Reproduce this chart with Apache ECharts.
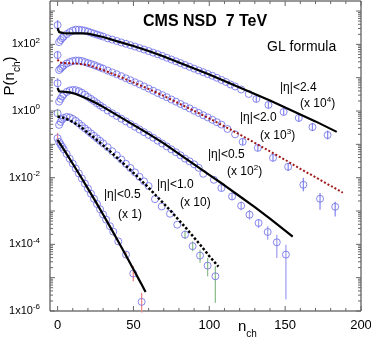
<!DOCTYPE html>
<html>
<head>
<meta charset="utf-8">
<script src="https://cdn.jsdelivr.net/npm/echarts@6/dist/echarts.min.js"></script>
<style>
  html, body { margin: 0; padding: 0; background: #fff; }
  #chart { width: 371px; height: 340px; }
</style>
</head>
<body>
<div id="chart"></div>
<script>
// |eta|<2.4 (x 10^4)
const n1 = [0,1,2,3,4,6,8,10,12,14,16,18,20,22,24,26,28,30,33,36,39,42,45,48,51,54,57,60,63,66,69,72,75,78,81,84,87,90,93,96,99,102,105,108,111,114,117,121,126,131,139,149,159,168,178];
const p1 = [378,117,135,154,171,203,233,259,277,277,268,259,242,225,210,196,183,171,152,139,126,114,104,94.6,85.9,77.5,69.9,63.0,56.4,50.5,45.0,39.7,35.1,31.0,27.4,24.0,21.2,18.7,16.5,14.6,12.9,11.4,9.93,8.59,7.43,6.25,5.45,4.43,3.25,2.30,1.52,0.94,0.62,0.33,0.19];
const fitN1 = [0,1,4,10,16,20,30,40,50,60,70,80,90,100,110,120,130,140,150,160,170,184];
const fit1 = [308,233,218,215,213,210,166,121,89,63,43,28.5,18.8,12.5,7.96,5.09,3.25,2.07,1.28,0.79,0.489,0.237];
const err1 = [[0,250,535],[131,1.85,2.85],[139,1.2,1.9],[149,0.74,1.2],[159,0.48,0.8],[168,0.25,0.44],[178,0.14,0.26]];

// |eta|<2.0 (x 10^3)
const n2 = [0,1,2,3,4,6,8,10,12,14,16,18,20,22,24,26,28,30,33,36,39,42,45,48,51,54,57,60,63,66,69,72,75,78,81,84,87,90,93,96,99,102,105,108,112,117,122,132,142,152,162,173,183];
const p2 = [47.9,17.0,18.9,20.9,23.2,26.6,29.5,31.6,32.7,32.7,31.6,29.5,27.5,25.7,24.0,22.1,20.3,18.7,16.3,14.4,12.7,11.1,9.6,8.36,7.28,6.34,5.49,4.72,4.06,3.48,3.01,2.59,2.22,1.91,1.63,1.39,1.20,1.02,0.877,0.748,0.643,0.546,0.462,0.392,0.29,0.2,0.119,0.0785,0.0394,0.0212,0.00612,0.00233,0.00134];
const fitN2 = [0,1,3,8,14,20,30,40,50,60,70,80,90,100,110,120,130,140,150,160,170,180,188];
const fit2 = [35.1,29.5,27.5,27.0,26.2,24.0,17.0,11.2,7.18,4.59,2.83,1.69,1.01,0.600,0.346,0.199,0.111,0.0617,0.0343,0.0185,0.0103,0.00571,0.00353];
const err2 = [[0,36,64],[122,0.095,0.15],[132,0.062,0.1],[142,0.031,0.05],[152,0.016,0.028],[162,0.0039,0.0099],[173,0.0011,0.0035],[183,0.00069,0.0019]];

// |eta|<0.5 (x 10^2)
const n3 = [0,1,2,3,4,6,8,10,12,14,16,18,20,22,24,26,28,30,33,36,39,42,45,48,51,54,57,60,63,66,69,72,75,78,81,84,87,90,93,96,103,108,115,121,126.5,132.5,138.5,144.5,150.5];
const p3 = [6.79,1.91,2.30,2.74,3.14,3.73,4.14,4.29,4.23,3.94,3.53,3.08,2.64,2.30,2.00,1.71,1.47,1.28,1.04,0.859,0.713,0.588,0.489,0.405,0.337,0.279,0.232,0.192,0.158,0.129,0.106,0.0865,0.0708,0.0579,0.0469,0.0373,0.031,0.0252,0.0198,0.0131,0.00865,0.00489,0.00274,0.00144,7.75e-4,4.37e-4,2.35e-4,1.15e-4,4.92e-5];
const fitN3 = [0,1,4,8,12,16,20,25,30,35,40,50,60,70,80,90,100,110,120,130,140,150,155];
const fit3 = [4.92,3.86,3.78,3.61,3.25,2.74,2.30,1.77,1.33,0.973,0.713,0.384,0.206,0.107,0.0520,0.0252,0.0122,0.00592,0.00277,0.00130,5.88e-4,2.57e-4,1.70e-4];
const err3 = [[0,4.6,9.8],[108,0.0039,0.0061],[115,0.0021,0.0035],[121,0.00105,0.0019],[126.5,5.5e-4,0.00109],[132.5,3.1e-4,5.75e-4],[138.5,1.38e-4,3.46e-4],[144.5,3.92e-5,1.95e-4],[150.5,2.2e-6,9.8e-5]];

// |eta|<1.0 (x 10)
const n4 = [0,1,2,3,4,6,8,10,12,14,16,18,20,22,24,26,28,30,33,36,39,42,45,48,51,54,57,60,64.2,68.6,74.1,78.9,84,89,93.9,98.9,104];
const p4 = [0.859,0.384,0.472,0.561,0.621,0.665,0.643,0.579,0.506,0.426,0.358,0.301,0.254,0.213,0.180,0.151,0.127,0.107,0.0818,0.0621,0.0469,0.0351,0.0262,0.0195,0.0144,0.0106,0.00775,0.00561,0.00227,0.00137,8.30e-4,3.89e-4,1.95e-4,8.83e-5,4.59e-5,2.30e-5,1.10e-5];
const fitN4 = [0,3,6,10,15,20,25,30,35,40,45,50,55,60,65,70,75,80,85,90,95,100,106];
const fit4 = [0.689,0.643,0.579,0.472,0.346,0.221,0.146,0.0933,0.0596,0.0368,0.0227,0.0140,0.00836,0.00499,0.00287,0.00166,9.53e-4,5.31e-4,2.95e-4,1.59e-4,8.54e-5,4.43e-5,2.15e-5];
const err4 = [[0,0.62,1.16],[84,1.45e-4,2.6e-4],[89,6.2e-5,1.23e-4],[93.9,2.8e-5,6.9e-5],[98.9,1.1e-5,3.9e-5],[104,1.76e-6,2.2e-5]];

// |eta|<0.5 (x 1)
const n5 = [0,1,2,3,4,6,8,10,12,14,16,18,20,22,24,26,28,30,32,34.5,36.7,40,45.1,49.9,55.4];
const p5 = [0.153,0.119,0.100,0.0841,0.0713,0.0513,0.0368,0.0264,0.0188,0.0134,0.00946,0.00665,0.00469,0.00330,0.00232,0.00162,0.00113,7.85e-4,5.50e-4,3.51e-4,2.40e-4,1.23e-4,4.92e-5,1.33e-5,1.88e-6];
const fitN5 = [0,5,10,15,20,25,30,35,40,45,50,55,58];
const fit5 = [0.136,0.0604,0.0262,0.0112,0.00469,0.00194,7.85e-4,3.12e-4,1.22e-4,4.72e-5,1.80e-5,6.75e-6,3.70e-6];
const err5 = [[0,0.104,0.221],[45.1,3.9e-5,6.1e-5],[49.9,7.8e-6,2.2e-5],[55.4,9e-7,3.5e-6]];

// axes
const xMin = -5, xMax = 200, yMin = 1e-6, yMax = 2000;
const xTicks = [0, 50, 100, 150, 200];
const xMinor = [10,20,30,40,60,70,80,90,110,120,130,140,160,170,180,190];
const yTickExp = [-6, -4, -2, 0, 2];
const yDecades = [-6, -5, -4, -3, -2, -1, 0, 1, 2, 3];

const font = 'Liberation Sans, Arial, sans-serif';
const circleColor = '#6a6ae8';

function pairs(xs, ys) {
  return xs.map((x, i) => [x, ys[i]]);
}

const tickData = [];
xTicks.forEach(v => tickData.push([v, yMin, 5, 0]));
xMinor.forEach(v => tickData.push([v, yMin, 3, 0]));
yDecades.forEach(e => {
  const d = Math.pow(10, e);
  tickData.push([xMin, d, 5, 1]);
  for (let m = 2; m <= 9; m++) {
    if (m * d < yMax) tickData.push([xMin, m * d, 3, 1]);
  }
});

function seg(x1, y1, x2, y2) {
  return { type: 'line', shape: { x1, y1, x2, y2 }, style: { stroke: '#666', lineWidth: 1 } };
}

function points(xs, ys) {
  return {
    type: 'scatter',
    data: pairs(xs, ys),
    symbol: 'circle',
    symbolSize: 7,
    itemStyle: { color: 'rgba(0,0,0,0)', borderColor: circleColor, borderWidth: 1 },
    z: 2
  };
}

function fit(xs, ys, color, type, width) {
  return {
    type: 'line',
    data: pairs(xs, ys),
    showSymbol: false,
    symbol: 'none',
    lineStyle: { color: color, type: type, width: width },
    z: 3
  };
}

function errors(data, color) {
  return {
    type: 'custom',
    data: data,
    encode: { x: 0, y: [1, 2] },
    z: 1,
    renderItem: function (params, api) {
      const a = api.coord([api.value(0), api.value(1)]);
      const b = api.coord([api.value(0), api.value(2)]);
      return { type: 'line', shape: { x1: a[0], y1: a[1], x2: b[0], y2: b[1] }, style: { stroke: color, lineWidth: 1.3 } };
    }
  };
}

function note(x, y, text, size) {
  return {
    type: 'text', x: x, y: y,
    style: {
      text: text, fill: '#000', fontFamily: font, verticalAlign: 'middle',
      rich: {
        m: { fontSize: size, lineHeight: size + 5, fontFamily: font },
        s: { fontSize: 8, lineHeight: 9, verticalAlign: 'top', fontFamily: font }
      }
    }
  };
}

const chart = echarts.init(document.getElementById('chart'));
chart.setOption({
  animation: false,
  textStyle: { fontFamily: font },
  grid: { left: 50, right: 10, top: 1, bottom: 29, show: true, borderColor: '#333', borderWidth: 1, outerBoundsMode: 'none' },
  xAxis: {
    type: 'value', min: xMin, max: xMax,
    axisLine: { show: false }, axisTick: { show: false }, splitLine: { show: false },
    axisLabel: { customValues: xTicks, color: '#000', fontSize: 13, margin: 8, fontFamily: font }
  },
  yAxis: {
    type: 'log', logBase: 10, min: yMin, max: yMax,
    axisLine: { show: false }, axisTick: { show: false }, splitLine: { show: false }, minorTick: { show: false },
    axisLabel: {
      margin: 10, color: '#000',
      formatter: function (v) {
        const e = Math.round(Math.log10(v));
        return yTickExp.indexOf(e) >= 0 ? '{m|1x10}{s|' + e + '}' : '';
      },
      rich: {
        m: { fontSize: 11, lineHeight: 16, color: '#000', fontFamily: font },
        s: { fontSize: 8, lineHeight: 9, verticalAlign: 'top', color: '#000', fontFamily: font }
      }
    }
  },
  graphic: [
    { type: 'text', x: 143, y: 22, style: { text: 'CMS NSD  7 TeV', fontSize: 16, fontWeight: 'bold', fontFamily: font, fill: '#000', verticalAlign: 'middle' } },
    { type: 'text', x: 267, y: 47, style: { text: 'GL formula', fontSize: 14, fontFamily: font, fill: '#000', verticalAlign: 'middle' } },
    note(280, 88, '{m|\u007c\u03b7\u007c<2.4}', 12),
    note(300, 104, '{m|(x 10}{s|4}{m|)}', 12),
    note(240, 118, '{m|\u007c\u03b7\u007c<2.0}', 12),
    note(260, 136, '{m|(x 10}{s|3}{m|)}', 12),
    note(208, 155, '{m|\u007c\u03b7\u007c<0.5}', 12),
    note(227, 172, '{m|(x 10}{s|2}{m|)}', 12),
    note(157, 185, '{m|\u007c\u03b7\u007c<1.0}', 12),
    note(180, 203, '{m|(x 10)}', 12),
    note(104, 195, '{m|\u007c\u03b7\u007c<0.5}', 12),
    note(118, 215, '{m|(x 1)}', 12),
    {
      type: 'text', x: 238, y: 327,
      style: {
        text: '{m|n}{b|ch}', fill: '#000', verticalAlign: 'middle',
        rich: {
          m: { fontSize: 15, lineHeight: 24, fontFamily: font },
          b: { fontSize: 10, lineHeight: 10, verticalAlign: 'bottom', fontFamily: font }
        }
      }
    },
    {
      type: 'text', x: 10, y: 76, rotation: Math.PI / 2,
      style: {
        text: '{m|P(n}{b|ch}{m|)}', fill: '#000', align: 'center', verticalAlign: 'middle',
        rich: {
          m: { fontSize: 15, lineHeight: 24, fontFamily: font },
          b: { fontSize: 10, lineHeight: 10, verticalAlign: 'bottom', fontFamily: font }
        }
      }
    }
  ],
  series: [
    errors(err1, '#8c8cf2'),
    errors(err2, '#8c8cf2'),
    errors(err3, '#a4a4f2'),
    errors(err4, '#8fbf8f'),
    errors(err5, '#f08888'),
    points(n1, p1),
    points(n2, p2),
    points(n3, p3),
    points(n4, p4),
    points(n5, p5),
    fit(fitN1, fit1, '#000', 'solid', 2.2),
    fit(fitN2, fit2, '#a01818', [2, 2], 2),
    fit(fitN3, fit3, '#000', 'solid', 2.2),
    fit(fitN4, fit4, '#000', [2.5, 2], 2.5),
    fit(fitN5, fit5, '#000', 'solid', 2.2),
    {
      type: 'custom',
      data: tickData,
      z: 5,
      renderItem: function (params, api) {
        const len = api.value(2);
        if (api.value(3) === 0) {
          const b = api.coord([api.value(0), yMin]);
          const t = api.coord([api.value(0), yMax]);
          return { type: 'group', children: [seg(b[0], b[1], b[0], b[1] - len), seg(t[0], t[1], t[0], t[1] + len)] };
        }
        const l = api.coord([xMin, api.value(1)]);
        const r = api.coord([xMax, api.value(1)]);
        return { type: 'group', children: [seg(l[0], l[1], l[0] + len, l[1]), seg(r[0], r[1], r[0] - len, r[1])] };
      }
    }
  ]
});
</script>
</body>
</html>
